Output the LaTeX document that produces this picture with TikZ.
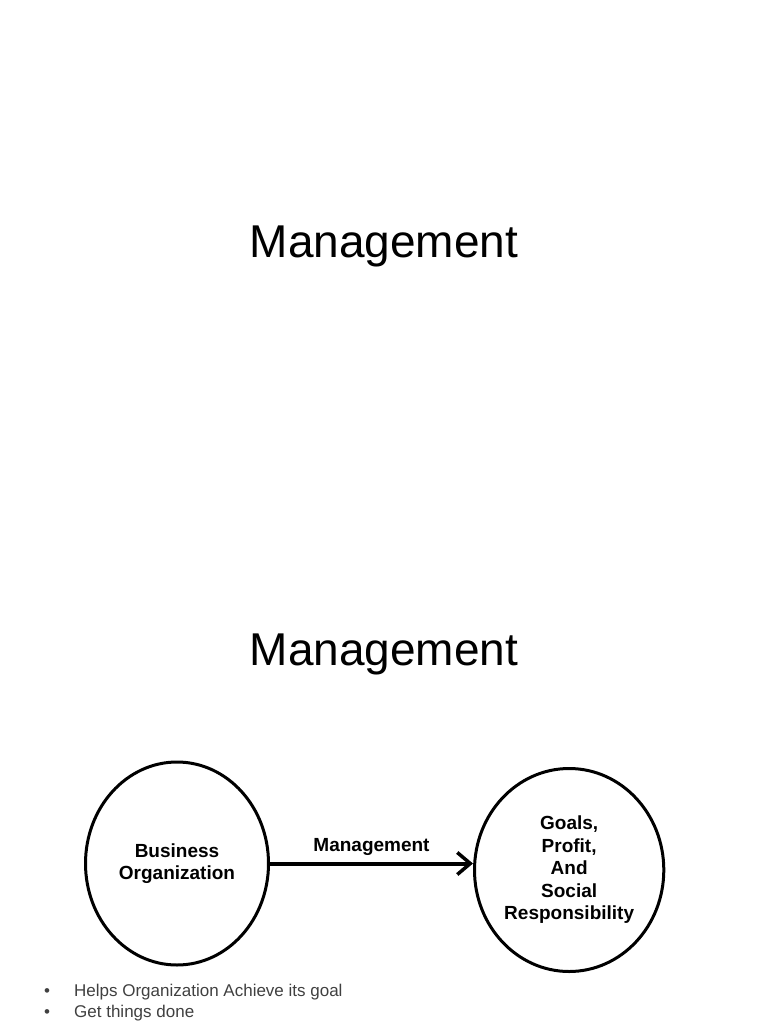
\documentclass[tikz,border=0pt]{standalone}
\usepackage{fontspec}
\setmainfont{Liberation Sans}
\usetikzlibrary{arrows.meta,positioning,shapes.geometric}
\newcommand{\bigoval}[2]{%
  \node[ellipse, draw=black, line width=3pt, minimum width=183pt,
        minimum height=203pt, inner sep=2pt, align=center,
        font=\fontsize{19}{22.5}\selectfont\bfseries, #2] (#1) }

\begin{document}
\begin{tikzpicture}[x=1pt, y=-1pt,
  titletext/.style={font=\fontsize{46}{55}\selectfont, anchor=base, inner sep=0pt},
  pointtext/.style={font=\fontsize{17}{21}\selectfont, text=black!75, inner sep=0pt}]

\useasboundingbox (0,0) rectangle (768,1024);

\node[titletext] (TitleTop) at (384,258) {Management};
\node[titletext] (TitleBottom) at (384,665) {Management};

\bigoval{Business}{} at (177,863.5)
  {Business\\ Organization};

\bigoval{Goals}{right=203pt of Business, yshift=-6.5pt}
  {Goals,\\ Profit,\\ And\\ Social\\ Responsibility};

\draw[line width=4pt, -{Straight Barb[length=13pt,width=22pt,line width=3.5pt]}]
  (Business.east) -- (Business.east -| Goals.west)
  node[midway, yshift=12pt, anchor=base, font=\fontsize{19}{22.5}\selectfont\bfseries] (ArrowLabel) {Management};

\node[pointtext, anchor=base west] (PointOne) at (74,996) {Helps Organization Achieve its goal};
\node[pointtext, anchor=base west] (PointTwo) at (74,1017) {Get things done};
\node[pointtext, anchor=base] (DotOne) at (47,996) {•};
\node[pointtext, anchor=base] (DotTwo) at (47,1017) {•};

\end{tikzpicture}
\end{document}
